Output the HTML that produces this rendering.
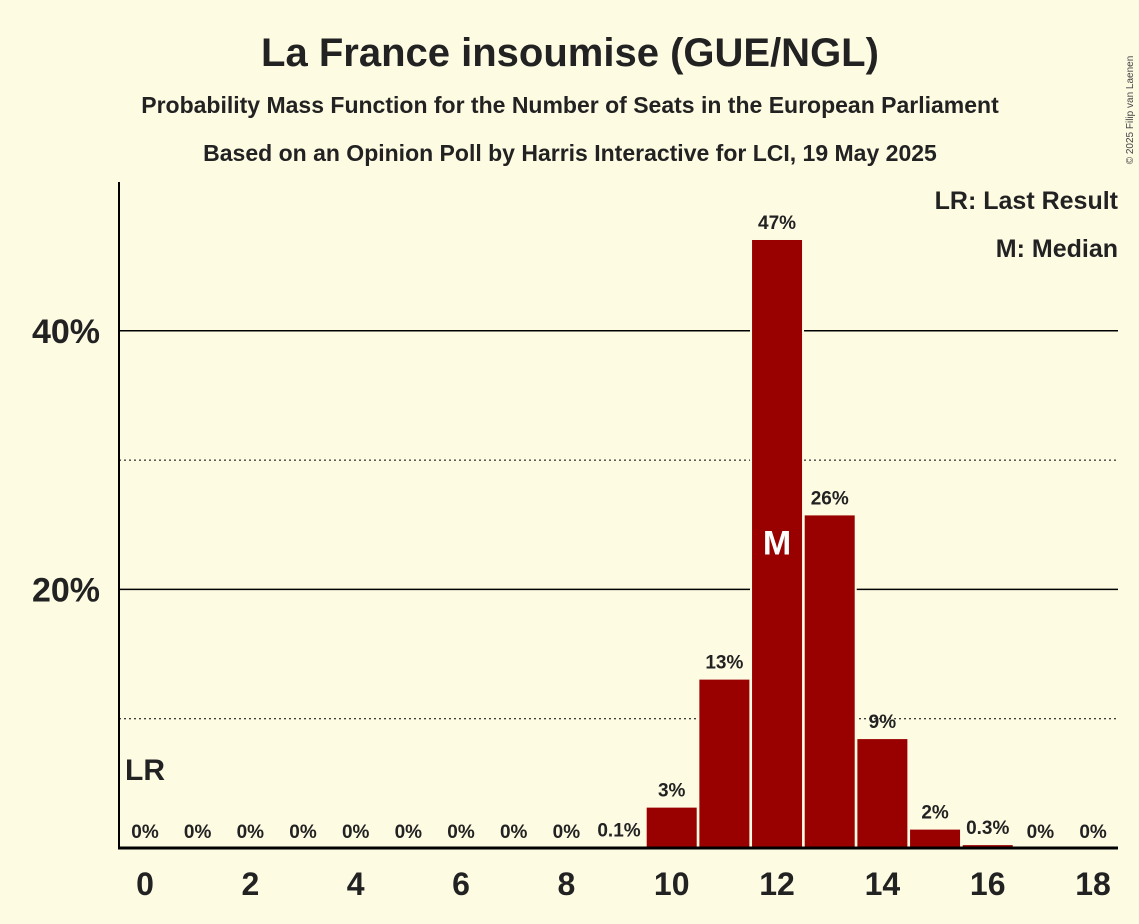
<!DOCTYPE html>
<html><head><meta charset="utf-8"><style>
body{margin:0;background:#fefbe3;}
svg{display:block;font-family:"Liberation Sans",sans-serif;}
</style></head><body>
<svg id="chart" width="1139" height="924">
<rect width="1139" height="924" fill="#fefbe3"/>
<text x="570" y="66" text-anchor="middle" font-size="40" font-weight="bold" fill="#222">La France insoumise (GUE/NGL)</text>
<text x="570" y="113" text-anchor="middle" font-size="23" font-weight="bold" fill="#222">Probability Mass Function for the Number of Seats in the European Parliament</text>
<text x="570" y="161" text-anchor="middle" font-size="23" font-weight="bold" fill="#222">Based on an Opinion Poll by Harris Interactive for LCI, 19 May 2025</text>
<text x="1133" y="110" font-size="10" fill="#444" transform="rotate(-90 1133 110)" text-anchor="middle">© 2025 Filip van Laenen</text>
<text x="1118" y="209" text-anchor="end" font-size="25" font-weight="bold" fill="#222">LR: Last Result</text>
<text x="1118" y="257" text-anchor="end" font-size="25" font-weight="bold" fill="#222">M: Median</text>
<g id="grid"></g>
<g id="bars"></g>
<g id="labels"></g>
<line x1="119" y1="182" x2="119" y2="849" stroke="#000" stroke-width="2"/>
<line x1="118" y1="848" x2="1118" y2="848" stroke="#000" stroke-width="3"/>
</svg>
<script>
const seats=[0,1,2,3,4,5,6,7,8,9,10,11,12,13,14,15,16,17,18];
const probs=[0,0,0,0,0,0,0,0,0,0.1,3.2,13.1,47.1,25.8,8.5,1.5,0.3,0,0];
const valueLabels=["0%","0%","0%","0%","0%","0%","0%","0%","0%","0.1%","3%","13%","47%","26%","9%","2%","0.3%","0%","0%"];
const yTicks=[10,20,30,40];
const yTickLabels=["","20%","","40%"];
const xTickLabels=["0","2","4","6","8","10","12","14","16","18"];
const xTickSeats=[0,2,4,6,8,10,12,14,16,18];
const medianSeat=12;
const lastResultSeat=0;
const NS="http://www.w3.org/2000/svg";
const xs=s=>145+s*52.67;
const ys=v=>848-v*12.93;
function mk(tag,attrs,parent){const e=document.createElementNS(NS,tag);for(const k in attrs)e.setAttribute(k,attrs[k]);document.getElementById(parent).appendChild(e);return e;}
yTicks.forEach((t,i)=>{
 const major=t%20===0;
 const l=mk('line',{x1:119,x2:1118,y1:ys(t),y2:ys(t),stroke:'#000','stroke-width':major?1.5:1,'stroke-dasharray':major?'':'2,3'},'grid');
 
 
 if(yTickLabels[i]){const tx=mk('text',{x:100,y:ys(t)+12,'text-anchor':'end','font-size':34,'font-weight':'bold',fill:'#222'},'grid');tx.textContent=yTickLabels[i];
 
 }
});
seats.forEach((s,i)=>{
 const v=probs[i];
 if(v>0){const r=mk('rect',{x:xs(s)-26,y:ys(v),width:52,height:848-ys(v),fill:'#990000',stroke:'#fefbe3','stroke-width':2},'bars');
 
 }
 const t=mk('text',{x:xs(s),y:Math.min(ys(v),848)-10,'text-anchor':'middle','font-size':19,'font-weight':'bold',fill:'#222'},'labels');
 t.textContent=valueLabels[i];
 
 
 if(s===medianSeat){const m=mk('text',{x:xs(s),y:ys(v/2)+11,'text-anchor':'middle','font-size':34,'font-weight':'bold',fill:'#fff'},'labels');m.textContent='M';
 
 }
 if(s===lastResultSeat){const m=mk('text',{x:xs(s),y:780,'text-anchor':'middle','font-size':30,'font-weight':'bold',fill:'#222'},'labels');m.textContent='LR';
 
 }
});
xTickSeats.forEach((s,i)=>{
 const t=mk('text',{x:xs(s),y:895,'text-anchor':'middle','font-size':32,'font-weight':'bold',fill:'#222'},'labels');
 t.textContent=xTickLabels[i];
 
 
});
</script>
</body></html>
